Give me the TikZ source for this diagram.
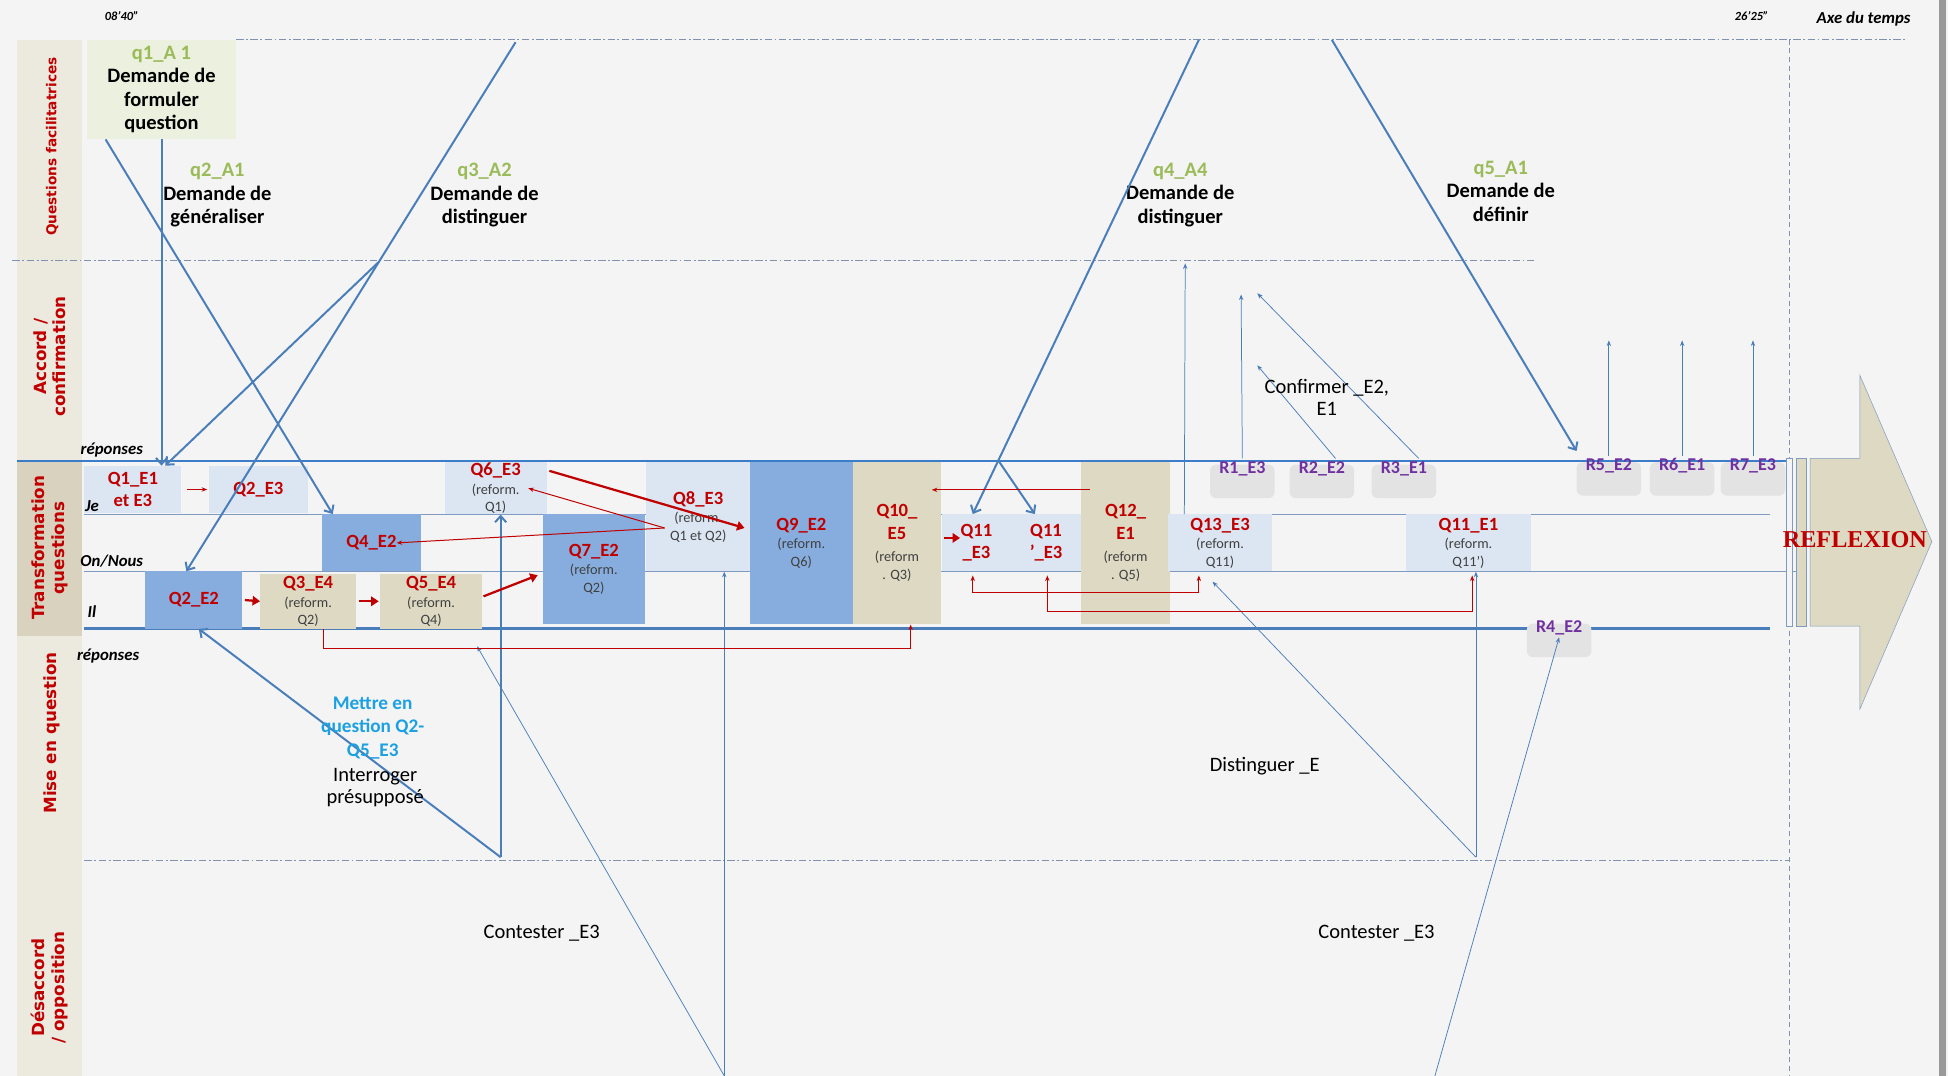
\documentclass[tikz,border=0pt]{standalone}
\usepackage{fontspec}
\setmainfont{Carlito}
\newfontfamily\voiefont{DejaVu Sans}
\newfontfamily\titrefont{Liberation Serif}
\usetikzlibrary{arrows.meta, calc}
\definecolor{fond}{HTML}{F4F4F4}
\definecolor{bande}{HTML}{ECE9DF}
\definecolor{bandefonce}{HTML}{D9D2BE}
\definecolor{vertpale}{HTML}{EBF1DE}
\definecolor{vertq}{HTML}{9BBB59}
\definecolor{rougeq}{HTML}{C00000}
\definecolor{bleuclair}{HTML}{DCE6F2}
\definecolor{bleumoyen}{HTML}{86ADDE}
\definecolor{sableq}{HTML}{DDD9C3}
\definecolor{violetr}{HTML}{7030A0}
\definecolor{bleutrait}{HTML}{4A7EBB}
\definecolor{bleuvif}{HTML}{3B7DC8}
\definecolor{bleugris}{HTML}{7F9BC2}
\definecolor{gristrait}{HTML}{8093AE}
\definecolor{gristxt}{HTML}{404040}
\definecolor{cyanq}{HTML}{1BA1E2}
\newcommand{\refo}[1]{{\fontsize{11.5}{13}\selectfont\mdseries\color{gristxt}#1}}

\begin{document}
\begin{tikzpicture}[x=1pt, y=-1pt,
  qbox/.style={inner sep=0pt, align=center, text=rougeq, font=\fontsize{15}{18}\selectfont\bfseries},
  clair/.style={qbox, fill=bleuclair},
  moyen/.style={qbox, fill=bleumoyen},
  sable/.style={qbox, fill=sableq},
  demande/.style={align=center, font=\fontsize{16.5}{19}\selectfont\bfseries},
  rep/.style={text=violetr, inner sep=2pt, font=\fontsize{14.5}{16}\selectfont\bfseries},
  ombre/.style={fill=black!11, rounded corners=5pt},
  voie/.style={rotate=90, align=center, text=rougeq, font=\voiefont\fontsize{13.5}{16}\selectfont\bfseries},
  libre/.style={align=center, font=\fontsize{16.5}{18}\selectfont},
  niveau/.style={font=\fontsize{13.5}{15}\selectfont\bfseries\itshape},
  pointille/.style={draw=gristrait, line width=0.8pt, dash pattern=on 6pt off 2pt on 1.5pt off 2pt},
  fort/.style={draw=bleutrait, line width=1.6pt, -{Straight Barb[length=5pt,width=9pt]}},
  fin/.style={draw=bleutrait, line width=0.6pt, -{Stealth[length=4.5pt,width=3.5pt]}},
  rouge/.style={draw=rougeq, line width=1.8pt, -{Triangle[length=6pt,width=7.5pt]}},
  rougefin/.style={draw=rougeq, line width=0.8pt, -{Stealth[length=4.5pt,width=3.5pt]}},
  rougedeux/.style={rougefin, {Stealth[length=4.5pt,width=3.5pt]}-{Stealth[length=4.5pt,width=3.5pt]}}]
  \useasboundingbox (0,0) rectangle (1568,866);
  \fill[fond] (0,0) rectangle (1568,866);
  \fill[black!40] (1561,0) rectangle (1566,866);
  \fill[bande] (14,32) rectangle (66,866);
  \fill[bandefonce] (14,372) rectangle (66,512);
  \draw[pointille] (190,32) -- (1535,32);
  \draw[pointille] (10,210) -- (1235,210);
  \draw[pointille] (68,693) -- (1440,693);
  \draw[gristrait, line width=0.6pt, dash pattern=on 4pt off 3pt] (1440,32) -- (1440,866);
  \draw[bleuvif, line width=2.2pt] (14,371) -- (1440,371);
  \draw[bleugris, line width=1.2pt] (68,414) -- (1425,414);
  \draw[bleugris, line width=1.2pt] (68,460) -- (1448,460);
  \draw[bleutrait, line width=2.2pt] (68,506) -- (1425,506);
  \node[demande, fill=vertpale, minimum width=120pt, minimum height=80pt, inner sep=0pt] (q1) at (130,72) {\textcolor{vertq}{q1\_A 1}\\Demande de\\formuler\\question};
  \node[demande] (q2) at (175,157) {\textcolor{vertq}{q2\_A1}\\Demande de\\généraliser};
  \node[demande] (q3) at (390,157) {\textcolor{vertq}{q3\_A2}\\Demande de\\distinguer};
  \node[demande] (q4) at (950,157) {\textcolor{vertq}{q4\_A4}\\Demande de\\distinguer};
  \node[demande] (q5) at (1208,154) {\textcolor{vertq}{q5\_A1}\\Demande de\\définir};
  \node[voie, font=\voiefont\fontsize{11}{13}\selectfont\bfseries] (lqf) at (42,118) {Questions facilitatrices};
  \node[voie] (lac) at (40,287) {Accord /\\confirmation};
  \node[voie] (ltq) at (40,441) {Transformation\\questions};
  \node[voie] (lmq) at (42,590) {Mise en question};
  \node[voie] (lde) at (40,795) {Désaccord\\/ opposition};
  \node[clair, minimum width=78pt, minimum height=38pt] (q1e1) at (107,394) {Q1\_E1\\et E3};
  \node[clair, minimum width=80pt, minimum height=38pt] (q2e3) at (208,394) {Q2\_E3};
  \node[clair, minimum width=82pt, minimum height=42pt] (q6e3) at (399,393) {Q6\_E3\\[-3pt]\refo{(reform.}\\[-4pt]\refo{Q1)}};
  \node[clair, minimum width=84pt, minimum height=88pt] (q8e3) at (562,416) {Q8\_E3\\[-3pt]\refo{(reform.}\\[-4pt]\refo{Q1 et Q2)}};
  \node[moyen, minimum width=80pt, minimum height=46pt] (q4e2) at (299,437) {Q4\_E2};
  \node[moyen, minimum width=78pt, minimum height=46pt] (q2e2) at (156,483) {Q2\_E2};
  \node[sable, minimum width=77pt, minimum height=44pt] (q3e4) at (248,484) {Q3\_E4\\[-3pt]\refo{(reform.}\\[-4pt]\refo{Q2)}};
  \node[sable, minimum width=82pt, minimum height=44pt] (q5e4) at (347,484) {Q5\_E4\\[-3pt]\refo{(reform.}\\[-4pt]\refo{Q4)}};
  \node[moyen, minimum width=82pt, minimum height=89pt] (q7e2) at (478,458) {Q7\_E2\\[-3pt]\refo{(reform.}\\[-4pt]\refo{Q2)}};
  \node[moyen, minimum width=83pt, minimum height=131pt] (q9e2) at (645,437) {Q9\_E2\\[-3pt]\refo{(reform.}\\[-4pt]\refo{Q6)}};
  \node[sable, minimum width=71pt, minimum height=131pt] (q10e5) at (722,437) {Q10\_\\E5\\\refo{(reform}\\[-4pt]\refo{. Q3)}};
  \node[clair, minimum width=56pt, minimum height=46pt] (q11a) at (786,437) {Q11\\\_E3};
  \node[clair, minimum width=56pt, minimum height=46pt] (q11b) at (842,437) {Q11\\'\_E3};
  \node[sable, minimum width=71pt, minimum height=131pt] (q12e1) at (906,437) {Q12\_\\E1\\\refo{(reform}\\[-4pt]\refo{. Q5)}};
  \node[clair, minimum width=83pt, minimum height=46pt] (q13e3) at (982,437) {Q13\_E3\\[-3pt]\refo{(reform.}\\[-4pt]\refo{Q11)}};
  \node[clair, minimum width=101pt, minimum height=46pt] (q11e1) at (1182,437) {Q11\_E1\\[-3pt]\refo{(reform.}\\[-4pt]\refo{Q11')}};
  \foreach \x/\y in {1000/377, 1064/377, 1130/377, 1295/375, 1354/375, 1411/375, 1255/505}
    \fill[ombre] (\x-26,\y-3) rectangle (\x+26,\y+24);
  \node[rep] (r1) at (1000,377) {R1\_E3};
  \node[rep] (r2) at (1064,377) {R2\_E2};
  \node[rep] (r3) at (1130,377) {R3\_E1};
  \node[rep] (r5) at (1295,375) {R5\_E2};
  \node[rep] (r6) at (1354,375) {R6\_E1};
  \node[rep] (r7) at (1411,375) {R7\_E3};
  \node[rep] (r4) at (1255,505) {R4\_E2};
  \draw[bleugris, fill=sableq] (1457,369) -- (1497,369) -- (1497,302) -- (1555,436) -- (1497,571) -- (1497,504) -- (1457,504) -- cycle;
  \draw[bleugris, fill=fond] (1438,369) rectangle (1443,504);
  \draw[bleugris, fill=sableq] (1446,369) rectangle (1454,504);
  \node[text=rougeq, font=\titrefont\fontsize{19.5}{22}\selectfont\bfseries] (refl) at (1493,434) {REFLEXION};
  \coordinate (q3haut) at (415,34);
  \coordinate (q4haut) at (965,32);
  \coordinate (q5haut) at (1072,32);
  \coordinate (mq) at (403,690);
  \coordinate (ct1) at (583,866);
  \coordinate (dis) at (1188,690);
  \coordinate (ct2) at (1155,866);
  \coordinate (acc) at (954,212);
  \coordinate (cf1) at (999,237);
  \coordinate (cf2) at (1012,236);
  \coordinate (cf3) at (1012,294);
  \coordinate (cf4) at (0,274);
  \draw[fort] (q1.south) -- (q1.south |- q1e1.north);
  \draw[fort] ([xshift=-45pt]q1.south) -- ([xshift=9pt]q4e2.north west);
  \draw[fort] (q3haut) -- ([xshift=-6pt]q2e2.north);
  \coordinate (q3fourche) at ($(q3haut)!0.415!([xshift=-6pt]q2e2.north)$);
  \draw[fort] (q3fourche) -- ([xshift=26pt]q1e1.north);
  \draw[fort] (q4haut) -- ([xshift=-3pt]q11a.north);
  \coordinate (q4fourche) at ($(q4haut)!0.887!([xshift=-3pt]q11a.north)$);
  \draw[fort] (q4fourche) -- ([xshift=-9pt]q11b.north);
  \draw[fort] (q5haut) -- ([shift={(-26,-12)}]r5.center);
  \draw[fort] (mq) -- (mq |- q6e3.south);
  \draw[fort] (mq) -- ([xshift=4pt]q2e2.south);
  \draw[fin] (ct1) -- ([shift={(37,14)}]q5e4.south);
  \draw[fin] (ct1) -- (ct1 |- q8e3.south);
  \draw[fin] (dis) -- (dis |- q11e1.south);
  \draw[fin] (dis) -- ([shift={(-6,8)}]q13e3.south);
  \draw[fin] (ct2) -- (r4.south);
  \draw[fin] ([xshift=13pt]q13e3.north west) -- (acc);
  \draw[fin] (r1.north) -- (cf1);
  \draw[fin] ([xshift=11pt]r2.north) -- (cf3);
  \draw[fin] ([xshift=12pt]r3.north) -- (cf2);
  \foreach \r in {r5,r6,r7}
    \draw[fin] (\r.north) -- (\r.north |- cf4);
  \draw[rougefin, line width=1.1pt] ([xshift=4pt]q1e1.east) -- ([xshift=-1pt]q2e3.west);
  \draw[rouge] ([xshift=2pt]q2e2.east) -- (q3e4.west);
  \draw[rouge] ([xshift=2pt]q3e4.east) -- ([xshift=-1pt]q5e4.west);
  \draw[rouge] ([shift={(1,-4)}]q5e4.east) -- ([shift={(-4,5)}]q7e2.west);
  \draw[rouge] ([shift={(2,-14)}]q6e3.east) -- ([shift={(-4,-12)}]q9e2.west);
  \coordinate (q8src) at ([shift={(-27,9)}]q8e3.center);
  \draw[rougefin] (q8src) -- ([xshift=-15pt]q6e3.east);
  \draw[rougefin] (q8src) -- ([xshift=-20pt]q4e2.east);
  \draw[rouge] ([shift={(2,-4)}]q10e5.east) -- ([shift={(15,-4)}]q11a.west);
  \draw[rougefin] ([shift={(-29,23)}]q12e1.north) -- ([shift={(28,23)}]q10e5.north);
  \draw[rougefin] ([xshift=12pt]q3e4.south) -- ++(0,16) -| ([xshift=11pt]q10e5.south);
  \draw[rougedeux] ([shift={(-3,3)}]q11a.south) -- ++(0,14) -| ([shift={(-17,3)}]q13e3.south);
  \draw[rougedeux] ([shift={(1,3)}]q11b.south) -- ++(0,29) -| ([shift={(3,3)}]q11e1.south);
  \node[libre, text=cyanq, font=\fontsize{15.5}{19}\selectfont\bfseries] (mettre) at (300,586) {Mettre en\\question Q2-\\Q5\_E3};
  \node[libre] (interr) at (302,634) {Interroger\\présupposé};
  \node[libre] (dist) at (1018,617) {Distinguer \_E};
  \node[libre] (cont1) at (436,751) {Contester \_E3};
  \node[libre] (cont2) at (1108,751) {Contester \_E3};
  \node[libre] (conf) at (1068,320) {Confirmer \_E2,\\E1};
  \node[font=\fontsize{10}{11}\selectfont\bfseries\itshape] (t0) at (98,13) {08'40''};
  \node[font=\fontsize{10}{11}\selectfont\bfseries\itshape] (t1) at (1410,13) {26'25''};
  \node[font=\fontsize{13.5}{15}\selectfont\bfseries\itshape] (axe) at (1500,15) {Axe du temps};
  \node[niveau] (rep1) at (90,362) {réponses};
  \node[niveau] (je) at (74,407) {Je};
  \node[niveau] (on) at (90,452) {On/Nous};
  \node[niveau] (il) at (74,492) {Il};
  \node[niveau] (rep2) at (87,528) {réponses};
\end{tikzpicture}
\end{document}
